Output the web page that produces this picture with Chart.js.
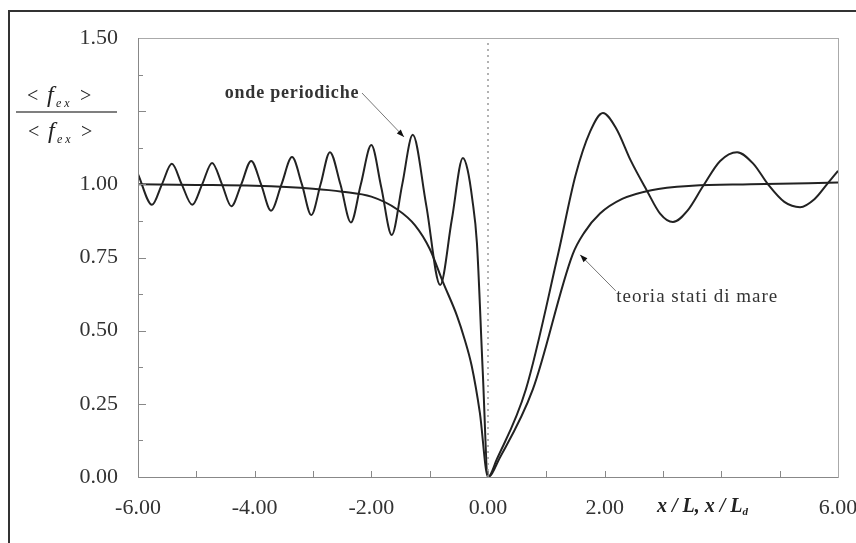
<!DOCTYPE html>
<html>
<head>
<meta charset="utf-8">
<script src="https://cdn.jsdelivr.net/npm/chart.js@4"></script>
<style>
  html, body { margin: 0; padding: 0; background: #fff; }
  #wrap { width: 856px; height: 543px; }
</style>
</head>
<body>
<div id="wrap"><canvas id="chart" width="856" height="543"></canvas></div>
<script>
// onde periodiche
const periodicX = [-6.00, -5.76, -5.59, -5.42, -5.25, -5.07, -4.90, -4.73, -4.56, -4.40, -4.23, -4.06, -3.89, -3.72, -3.54, -3.36, -3.19, -3.03, -2.87, -2.71, -2.53, -2.35, -2.18, -2.00, -1.83, -1.65, -1.47, -1.29, -1.06, -0.82, -0.62, -0.43, -0.35, -0.27, -0.19, -0.09, 0.00, 0.15, 0.65, 1.20, 1.50, 1.75, 1.97, 2.20, 2.45, 2.72, 2.95, 3.17, 3.42, 3.69, 3.98, 4.27, 4.55, 4.80, 5.08, 5.35, 5.60, 5.83, 6.00];
const periodicY = [1.035, 0.930, 1.000, 1.070, 1.000, 0.930, 1.000, 1.073, 1.000, 0.925, 1.000, 1.080, 1.000, 0.910, 1.000, 1.093, 1.000, 0.895, 1.000, 1.110, 1.000, 0.870, 1.000, 1.134, 0.990, 0.827, 1.000, 1.169, 0.930, 0.656, 0.880, 1.090, 1.050, 0.950, 0.800, 0.360, 0.000, 0.060, 0.300, 0.760, 1.030, 1.180, 1.244, 1.190, 1.080, 0.980, 0.900, 0.871, 0.910, 0.995, 1.080, 1.110, 1.070, 1.000, 0.940, 0.922, 0.950, 1.005, 1.046];

// teoria stati di mare
const smoothX = [-6.00, -5.00, -4.00, -3.00, -2.50, -2.00, -1.56, -1.25, -1.00, -0.77, -0.53, -0.40, -0.28, -0.14, 0.00, 0.20, 0.77, 1.45, 1.65, 1.92, 2.30, 2.80, 3.50, 4.50, 6.00];
const smoothY = [1.000, 0.998, 0.995, 0.985, 0.975, 0.958, 0.915, 0.860, 0.780, 0.665, 0.550, 0.470, 0.380, 0.220, 0.000, 0.065, 0.300, 0.760, 0.835, 0.900, 0.950, 0.980, 0.995, 1.000, 1.006];

const yTicks = [0, 0.25, 0.5, 0.75, 1.0, 1.25, 1.5];
const xTicks = [-6, -4, -2, 0, 2, 4, 6];

const toPoints = (xs, ys) => xs.map((x, i) => ({ x: x, y: ys[i] }));

const serif = '"Liberation Serif", "DejaVu Serif", serif';

const chartDecor = {
    id: "chartDecor",
    beforeDraw(chart) {
        const ctx = chart.ctx;
        ctx.save();
        ctx.fillStyle = "#fff";
        ctx.fillRect(0, 0, chart.width, chart.height);
        ctx.restore();
    },
    afterDraw(chart) {
        const ctx = chart.ctx;
        const a = chart.chartArea;
        const xs = chart.scales.x;
        const ys = chart.scales.y;
        ctx.save();

        // outer frame
        ctx.strokeStyle = "#333";
        ctx.lineWidth = 2;
        ctx.beginPath();
        ctx.moveTo(9, 543);
        ctx.lineTo(9, 11);
        ctx.lineTo(856, 11);
        ctx.stroke();

        // plot box
        ctx.strokeStyle = "#aaa";
        ctx.lineWidth = 1;
        ctx.strokeRect(a.left + 0.5, a.top + 0.5, a.right - a.left, a.bottom - a.top);
        ctx.strokeStyle = "#888";
        ctx.beginPath();
        ctx.moveTo(a.left + 0.5, a.top);
        ctx.lineTo(a.left + 0.5, a.bottom + 0.5);
        ctx.lineTo(a.right, a.bottom + 0.5);
        ctx.stroke();

        // inward tick marks
        ctx.beginPath();
        for (let v = 0.125; v < 1.5; v += 0.125) {
            const py = Math.round(ys.getPixelForValue(v)) + 0.5;
            const len = (Math.abs(v / 0.25 - Math.round(v / 0.25)) < 1e-6) ? 8 : 5;
            ctx.moveTo(a.left, py);
            ctx.lineTo(a.left + len, py);
        }
        for (let v = -5; v < 6; v += 1) {
            const px = Math.round(xs.getPixelForValue(v)) + 0.5;
            ctx.moveTo(px, a.bottom);
            ctx.lineTo(px, a.bottom - 6);
        }
        ctx.stroke();

        // y axis title as a fraction
        const drawFex = (cx, base) => {
            ctx.fillStyle = "#222";
            ctx.textBaseline = "alphabetic";
            ctx.textAlign = "left";
            ctx.font = "20px " + serif;
            ctx.fillText("<", cx - 33, base);
            ctx.font = "italic 24px " + serif;
            ctx.fillText("f", cx - 13, base);
            ctx.font = "italic 12px " + serif;
            ctx.fillText("e x", cx - 4, base + 5);
            ctx.font = "20px " + serif;
            ctx.fillText(">", cx + 20, base);
        };
        drawFex(60, 102);
        ctx.strokeStyle = "#555";
        ctx.lineWidth = 1.5;
        ctx.beginPath();
        ctx.moveTo(16, 112);
        ctx.lineTo(117, 112);
        ctx.stroke();
        drawFex(61, 138);

        // x axis title
        ctx.fillStyle = "#222";
        ctx.font = "bold italic 20px " + serif;
        ctx.textAlign = "left";
        const tx = 657, tb = 512;
        ctx.fillText("x / L, x / L", tx, tb);
        const w = ctx.measureText("x / L, x / L").width;
        ctx.font = "bold italic 11px " + serif;
        ctx.fillText("d", tx + w, tb + 3);

        // annotations
        const arrow = (x1, y1, x2, y2) => {
            const p1 = [xs.getPixelForValue(x1), ys.getPixelForValue(y1)];
            const p2 = [xs.getPixelForValue(x2), ys.getPixelForValue(y2)];
            ctx.strokeStyle = "#777";
            ctx.lineWidth = 1;
            ctx.beginPath();
            ctx.moveTo(p1[0], p1[1]);
            ctx.lineTo(p2[0], p2[1]);
            ctx.stroke();
            const ang = Math.atan2(p2[1] - p1[1], p2[0] - p1[0]);
            ctx.fillStyle = "#111";
            ctx.beginPath();
            ctx.moveTo(p2[0], p2[1]);
            ctx.lineTo(p2[0] - 8 * Math.cos(ang - 0.35), p2[1] - 8 * Math.sin(ang - 0.35));
            ctx.lineTo(p2[0] - 8 * Math.cos(ang + 0.35), p2[1] - 8 * Math.sin(ang + 0.35));
            ctx.closePath();
            ctx.fill();
        };

        arrow(-2.16, 1.312, -1.44, 1.162);
        ctx.fillStyle = "#333";
        ctx.font = "bold 18px " + serif;
        ctx.letterSpacing = "0.8px";
        ctx.textAlign = "center";
        ctx.textBaseline = "middle";
        ctx.fillText("onde periodiche", xs.getPixelForValue(-3.36), ys.getPixelForValue(1.31));

        arrow(2.19, 0.636, 1.58, 0.759);
        ctx.fillStyle = "#333";
        ctx.font = "19px " + serif;
        ctx.letterSpacing = "1px";
        ctx.textAlign = "left";
        ctx.fillText("teoria stati di mare", xs.getPixelForValue(2.2), ys.getPixelForValue(0.615));
        ctx.letterSpacing = "0px";

        ctx.restore();
    }
};

new Chart(document.getElementById("chart").getContext("2d"), {
    type: "scatter",
    data: {
        datasets: [
            {
                label: "asse",
                data: [{ x: 0, y: 0 }, { x: 0, y: 1.5 }],
                showLine: true,
                borderColor: "#999",
                borderWidth: 1.5,
                borderDash: [2, 4],
                pointRadius: 0
            },
            {
                label: "onde periodiche",
                data: toPoints(periodicX, periodicY),
                showLine: true,
                borderColor: "#222",
                borderWidth: 2,
                pointRadius: 0,
                cubicInterpolationMode: "monotone"
            },
            {
                label: "teoria stati di mare",
                data: toPoints(smoothX, smoothY),
                showLine: true,
                borderColor: "#222",
                borderWidth: 2,
                pointRadius: 0,
                cubicInterpolationMode: "monotone"
            }
        ]
    },
    options: {
        responsive: false,
        animation: false,
        layout: { autoPadding: false, padding: { top: 38, right: 18, left: 0, bottom: 0 } },
        plugins: { legend: { display: false }, tooltip: { enabled: false } },
        scales: {
            x: {
                type: "linear",
                min: -6,
                max: 6,
                afterFit: s => { s.height = 66; s.paddingRight = 0; s.paddingLeft = 0; },
                afterBuildTicks: s => { s.ticks = xTicks.map(v => ({ value: v })); },
                grid: { display: false, drawTicks: false },
                border: { display: false },
                ticks: {
                    padding: 18,
                    maxRotation: 0,
                    autoSkip: false,
                    color: "#333",
                    font: { family: serif, size: 22 },
                    callback: v => (v === 4 ? "" : v.toFixed(2))
                }
            },
            y: {
                type: "linear",
                min: 0,
                max: 1.5,
                afterFit: s => { s.width = 138; },
                afterBuildTicks: s => { s.ticks = yTicks.map(v => ({ value: v })); },
                grid: { display: false, drawTicks: false },
                border: { display: false },
                ticks: {
                    padding: 20,
                    autoSkip: false,
                    color: "#333",
                    font: { family: serif, size: 22 },
                    callback: v => (v === 1.25 ? "" : v.toFixed(2))
                }
            }
        }
    },
    plugins: [chartDecor]
});
</script>
</body>
</html>
